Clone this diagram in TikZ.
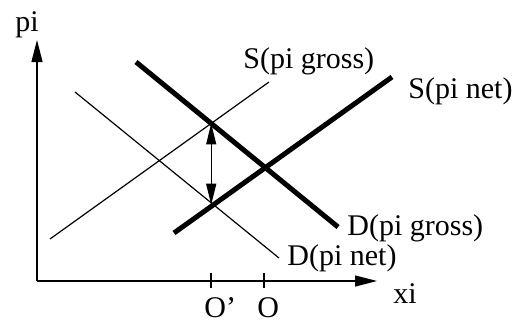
\documentclass[tikz,border=0pt]{standalone}
\usepackage{fontspec}
\setmainfont{Liberation Serif}
\usetikzlibrary{arrows.meta,intersections}
\begin{document}
\begin{tikzpicture}[x=0.5pt,y=-0.5pt,
  thinline/.style={line width=0.6pt},
  thickline/.style={line width=2.5pt},
  axis/.style={line width=0.65pt,-{Triangle[length=11pt,width=5.5pt]}},
  lbl/.style={anchor=base west,inner sep=0pt,font=\fontsize{15}{18}\selectfont}]
\useasboundingbox (0,0) rectangle (513,321);
% axes
\coordinate (orig) at (37,281);
\coordinate (ytip) at (37,40);
\coordinate (xtip) at (377,281);
\draw[axis] (orig) -- (ytip);
\draw[axis] (orig) -- (xtip);
% ticks
\coordinate (t1a) at (211,273); \coordinate (t1b) at (211,288);
\coordinate (t2a) at (264,273); \coordinate (t2b) at (264,288);
\draw[thinline] (t1a) -- (t1b);
\draw[thinline] (t2a) -- (t2b);
% curves
\coordinate (sg1) at (50,239);  \coordinate (sg2) at (269,82);
\coordinate (dn1) at (75,92);   \coordinate (dn2) at (279,258);
\coordinate (dg1) at (136,62);  \coordinate (dg2) at (338,227);
\coordinate (sn1) at (174,233); \coordinate (sn2) at (392,77);
\draw[thinline,name path=SG] (sg1) -- (sg2);
\draw[thinline,name path=DN] (dn1) -- (dn2);
\draw[thickline,name path=DG] (dg1) -- (dg2);
\draw[thickline,name path=SN] (sn1) -- (sn2);
\path[name intersections={of=SG and DG,by=top}];
\path[name intersections={of=SN and DN,by=bot}];
\draw[thinline,{Triangle[length=10.5pt,width=5pt]}-{Triangle[length=10.5pt,width=5pt]}] (top) -- (top |- bot);
% labels
\node[lbl] (pi) at (15,32) {pi};
\node[lbl] (xi) at (393,303) {xi};
\node[lbl] (Sg) at (243,68) {S(pi gross)};
\node[lbl] (Sn) at (408,98) {S(pi net)};
\node[lbl] (Dg) at (347,235) {D(pi gross)};
\node[lbl] (Dn) at (287,265) {D(pi net)};
\node[lbl] (Op) at (204,317) {O'};
\node[lbl] (O) at (257,317) {O};
\end{tikzpicture}
\end{document}
